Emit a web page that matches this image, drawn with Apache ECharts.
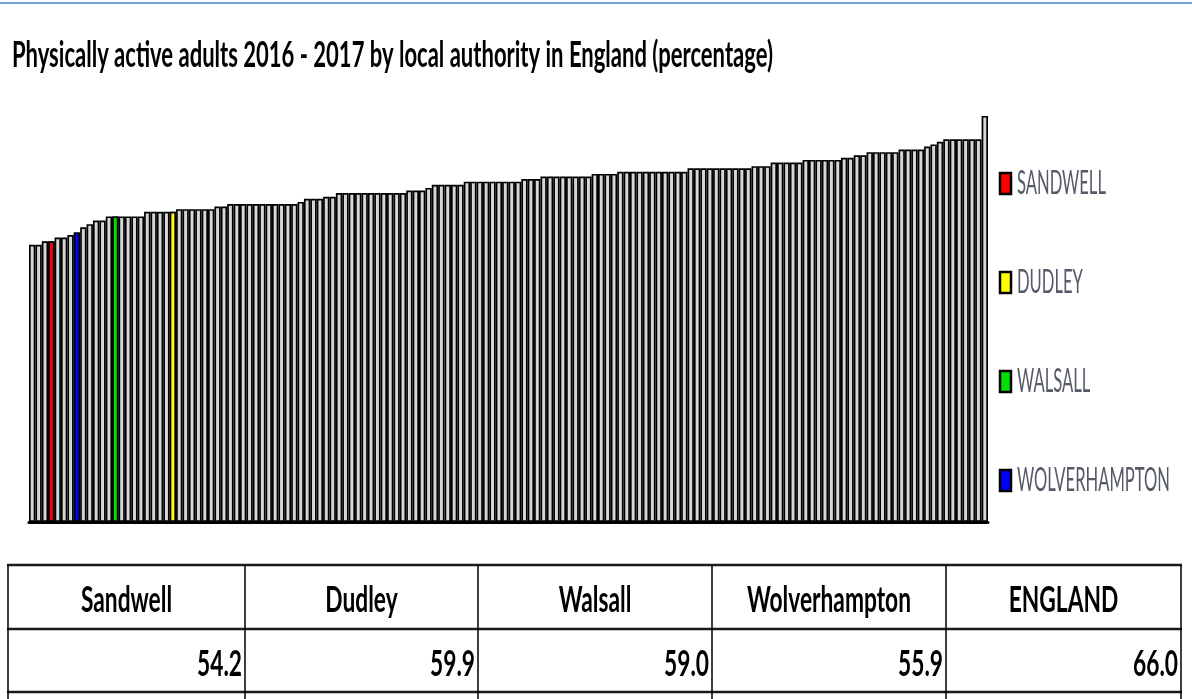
<!DOCTYPE html>
<html><head><meta charset="utf-8">
<script src="https://cdn.jsdelivr.net/npm/echarts@6/dist/echarts.min.js"></script>
<style>html,body{margin:0;padding:0;background:#fff}#c{width:1192px;height:699px}</style>
</head><body><div id="c"></div>
<script>
// ---------------- DATA ----------------
const titleText = 'Physically active adults 2016 - 2017 by local authority in England (percentage)';
// Physically active adults (%) for each local authority, sorted ascending
const values = [
  53.5, 53.5, 54.2, 54.2, 54.9, 54.9, 55.4, 55.9, 56.9, 57.5,
  58.2, 58.2, 59.0, 59.0, 59.0, 59.0, 59.0, 59.0, 59.9, 59.9,
  59.9, 59.9, 59.9, 60.4, 60.4, 60.4, 60.4, 60.4, 60.4, 60.9,
  60.9, 61.4, 61.4, 61.4, 61.4, 61.4, 61.4, 61.4, 61.4, 61.4,
  61.4, 61.4, 61.8, 62.4, 62.4, 62.4, 62.8, 62.8, 63.5, 63.5,
  63.5, 63.5, 63.5, 63.5, 63.5, 63.5, 63.5, 63.5, 63.5, 64.0,
  64.0, 64.0, 64.5, 65.1, 65.1, 65.1, 65.1, 65.1, 65.7, 65.7,
  65.7, 65.7, 65.7, 65.7, 65.7, 65.7, 65.7, 66.2, 66.2, 66.2,
  66.7, 66.7, 66.7, 66.7, 66.7, 66.7, 66.7, 66.7, 67.2, 67.2,
  67.2, 67.2, 67.6, 67.6, 67.6, 67.6, 67.6, 67.6, 67.6, 67.6,
  67.6, 67.6, 67.6, 68.3, 68.3, 68.3, 68.3, 68.3, 68.3, 68.3,
  68.3, 68.3, 68.3, 68.7, 68.7, 68.7, 69.4, 69.4, 69.4, 69.4,
  69.4, 69.9, 69.9, 69.9, 69.9, 69.9, 69.9, 70.3, 70.3, 70.8,
  70.8, 71.4, 71.4, 71.4, 71.4, 71.4, 71.9, 71.9, 71.9, 71.9,
  72.5, 72.9, 73.4, 73.9, 73.9, 73.9, 73.9, 73.9, 73.9, 78.4
];
const categories = values.map((_, i) => 'LA ' + (i + 1));
const highlightNames = ['SANDWELL', 'DUDLEY', 'WALSALL', 'WOLVERHAMPTON'];
const highlightIndex = [3, 22, 13, 7];
const tableNames = ['Sandwell', 'Dudley', 'Walsall', 'Wolverhampton', 'ENGLAND'];
const tableValues = [54.2, 59.9, 59.0, 55.9, 66.0];

// ---------------- STYLE ----------------
const highlightColors = ['#ff0000', '#ffff00', '#00e000', '#0000ff'];
const FONT = 'Lato';
const mctx = document.createElement('canvas').getContext('2d');
function measure(text, size, weight) { mctx.font = (weight || 'normal') + ' ' + size + 'px ' + FONT; return mctx.measureText(text).width; }

const titleSize = 37, legendSize = 32, tableSize = 36;
const titleW = 'bold', tableW = 'bold', legendW = 'normal';
const titleScale = 761 / measure(titleText, titleSize, titleW);
const legendScale = 153 / measure('WOLVERHAMPTON', legendSize, legendW);
const tableScale = 164 / measure('Wolverhampton', tableSize, tableW);

const graphics = [];
// top blue rule
graphics.push({ type: 'line', shape: { x1: 0, y1: 3, x2: 1192, y2: 3 }, style: { stroke: '#6d9fd6', lineWidth: 2 } });
// title
graphics.push({ type: 'text', x: 12, y: 55, scaleX: titleScale,
  style: { text: titleText, fontSize: titleSize, fontWeight: titleW, fontFamily: FONT, fill: '#000', align: 'left', verticalAlign: 'middle' } });
// legend
const legendY = [183, 282, 381, 480];
highlightNames.forEach((n, k) => {
  graphics.push({ type: 'rect', shape: { x: 1000, y: legendY[k] - 10, width: 11, height: 21 },
    style: { fill: highlightColors[k], stroke: '#000', lineWidth: 2.5 } });
  graphics.push({ type: 'text', x: 1017, y: legendY[k] + 1, scaleX: legendScale,
    style: { text: n, fontSize: legendSize, fontWeight: legendW, fontFamily: FONT, fill: '#555a66', align: 'left', verticalAlign: 'middle' } });
});
// table
const colX = [8, 245, 478, 712, 946, 1181];
const rowY = [565, 629, 692];
rowY.forEach(y => graphics.push({ type: 'line', shape: { x1: colX[0] - 1, y1: y, x2: colX[5] + 1, y2: y },
  style: { stroke: '#1a1a1a', lineWidth: 2.5 } }));
colX.forEach(x => graphics.push({ type: 'line', shape: { x1: x, y1: rowY[0], x2: x, y2: 699 },
  style: { stroke: '#000', lineWidth: 1.5 } }));
tableNames.forEach((n, k) => {
  graphics.push({ type: 'text', x: (colX[k] + colX[k + 1]) / 2, y: 600, scaleX: tableScale,
    style: { text: n, fontSize: tableSize, fontWeight: tableW, fontFamily: FONT, fill: '#000', align: 'center', verticalAlign: 'middle' } });
  graphics.push({ type: 'text', x: colX[k + 1] - 3, y: 664, scaleX: tableScale,
    style: { text: tableValues[k].toFixed(1), fontSize: tableSize, fontWeight: tableW, fontFamily: FONT, fill: '#000', align: 'right', verticalAlign: 'middle' } });
});

const series = [{
  name: 'All', type: 'bar', data: values, barCategoryGap: 0, barGap: '-100%',
  itemStyle: { color: '#d6d6d6', borderColor: '#000', borderWidth: 1.7 }, silent: true
}];
highlightNames.forEach((n, k) => {
  series.push({
    name: n, type: 'bar', barCategoryGap: 0, barGap: '-100%',
    data: values.map((v, i) => i === highlightIndex[k] ? v : '-'),
    itemStyle: { color: highlightColors[k], borderColor: '#000', borderWidth: 1.7 }, silent: true
  });
});

const chart = echarts.init(document.getElementById('c'));
chart.setOption({
  animation: false,
  backgroundColor: '#fff',
  grid: { left: 29, right: 204, top: 107.6, bottom: 177 },
  xAxis: { type: 'category', data: categories, axisLine: { lineStyle: { color: '#000', width: 3 } },
    axisTick: { show: false }, axisLabel: { show: false }, splitLine: { show: false } },
  yAxis: { type: 'value', min: 0, max: 80, show: false, splitLine: { show: false } },
  series: series,
  graphic: graphics
});
</script></body></html>
